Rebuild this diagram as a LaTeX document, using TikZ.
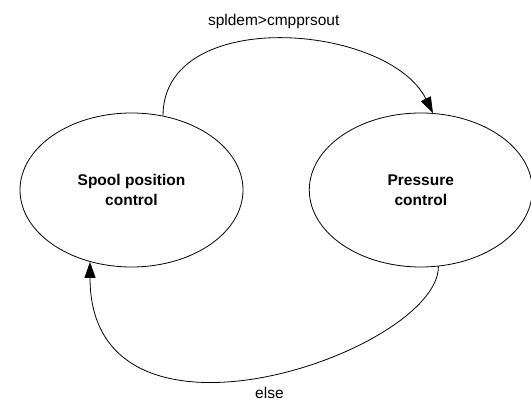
\documentclass[tikz,border=0pt]{standalone}
\usepackage{fontspec}
\setmainfont{Liberation Sans}
\usepackage{tikz}
\usetikzlibrary{positioning, arrows.meta, shapes.geometric}

\begin{document}
\begin{tikzpicture}[
      x=1pt, y=-1pt,
      node distance=65.5pt,
      state/.style={
        draw,
        ellipse,
        line width=0.8pt,
        minimum width=223pt,
        minimum height=154pt,
        inner sep=0pt,
        align=center,
        font=\fontsize{15.5}{19.5}\selectfont\bfseries
      },
      arrow/.style={
        -{Triangle[length=16pt,width=11pt]},
        line width=0.8pt
      },
      cond/.style={
        inner sep=0pt,
        font=\fontsize{15.5}{19.5}\selectfont
      }
    ]

    \useasboundingbox (0,0) rectangle (531,401);

    \node[state] (spool) at (131.5,190) {Spool position\\control};

    \node[state, right=of spool] (pressure) {Pressure\\control};

    \draw[arrow] (spool.67) .. controls +(0,-110) and +(-45,-90) .. node[cond, pos=0.48, above=10pt] {spldem>cmpprsout} (pressure.81);

    \draw[arrow] (pressure.283) .. controls +(0,85) and +(0,211) .. node[cond, pos=0.49, below=13pt] {else} (spool.240);

    \end{tikzpicture}
\end{document}
